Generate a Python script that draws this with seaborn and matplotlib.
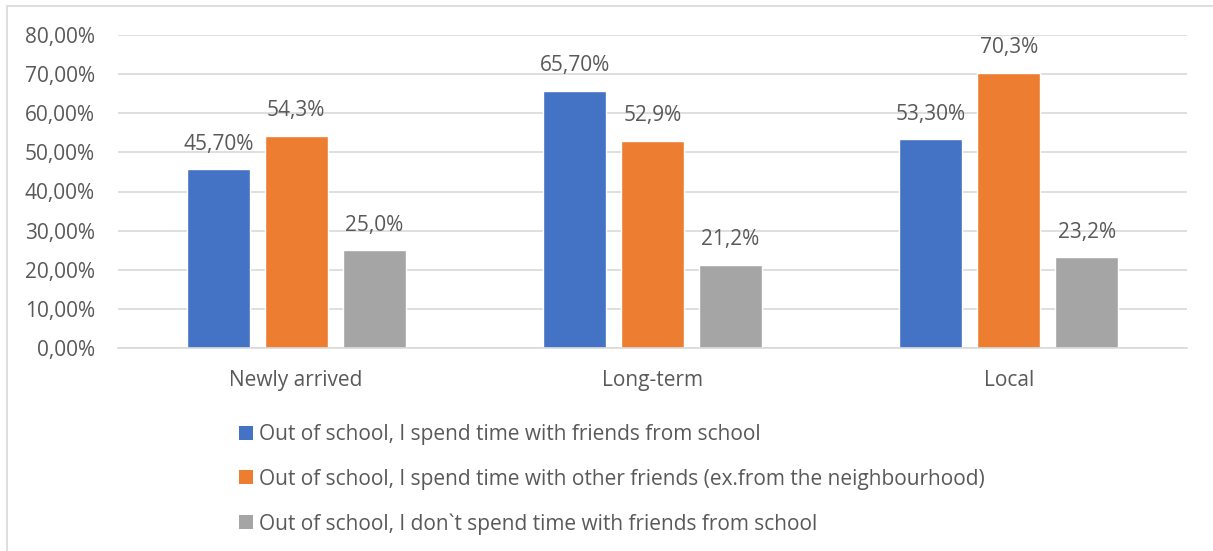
import matplotlib
matplotlib.use("Agg")
import matplotlib.pyplot as plt
import seaborn as sns
import pandas as pd
from matplotlib.patches import Patch, Rectangle

categories = ["Newly arrived", "Long-term", "Local"]
series = [
    "Out of school, I spend time with friends from school",
    "Out of school, I spend time with other friends (ex.from the neighbourhood)",
    "Out of school, I don`t spend time with friends from school",
]
school_friends = [45.70, 65.70, 53.30]
other_friends = [54.3, 52.9, 70.3]
no_school_friends = [25.0, 21.2, 23.2]
label_decimals = [2, 1, 1]
colors = ["#4472C4", "#ED7D31", "#A5A5A5"]
yticks = [0, 10, 20, 30, 40, 50, 60, 70, 80]

rows = []
for name, vals in zip(series, [school_friends, other_friends, no_school_friends]):
    for cat, v in zip(categories, vals):
        rows.append({"category": cat, "series": name, "value": v})
df = pd.DataFrame(rows)

sns.set_theme(style="white")
plt.rcParams["font.family"] = ["Open Sans", "DejaVu Sans"]
text_color = "#595959"
fs = 15

fig = plt.figure(figsize=(12.13, 5.51), dpi=100)
ax = fig.add_axes([118 / 1213, 1 - 348 / 551, (1187 - 118) / 1213, (348 - 35) / 551])

sns.barplot(data=df, x="category", y="value", hue="series", order=categories,
            hue_order=series, palette=colors, width=0.656, gap=0.19,
            saturation=1, legend=False, ax=ax, errorbar=None)

ax.set_ylim(0, 80)
ax.set_xlim(-0.5, 2.5)
ax.set_yticks(yticks)
ax.set_yticklabels([f"{t:.2f}%".replace(".", ",") for t in yticks])
ax.grid(axis="y", color="#D9D9D9", linewidth=1.2)
ax.set_axisbelow(True)
for s in ["top", "right", "left"]:
    ax.spines[s].set_visible(False)
ax.spines["bottom"].set_color("#D9D9D9")
ax.spines["bottom"].set_linewidth(1.2)
ax.tick_params(axis="both", length=0, labelsize=fs, colors=text_color)
ax.tick_params(axis="y", pad=16.5)
ax.tick_params(axis="x", pad=16)
ax.set_xlabel("")
ax.set_ylabel("")

for container, dec in zip(ax.containers, label_decimals):
    labels = [f"{b.get_height():.{dec}f}%".replace(".", ",") for b in container]
    ax.bar_label(container, labels=labels, padding=10.5, fontsize=fs, color=text_color)

handles = [Patch(facecolor=c, edgecolor="none") for c in colors]
fig.legend(handles, series, loc="upper left", bbox_to_anchor=(229 / 1213, 1 - 414 / 551),
           frameon=False, fontsize=fs, labelcolor=text_color, handlelength=0.65,
           handleheight=0.65, handletextpad=0.3, labelspacing=1.12, borderpad=0)

fig.patches.append(Rectangle((7 / 1213, -0.1), 1.2, 1 - 6 / 551 + 0.1,
                             transform=fig.transFigure, fill=False,
                             edgecolor="#D9D9D9", linewidth=1.2))

fig.savefig("out.png", dpi=100)
